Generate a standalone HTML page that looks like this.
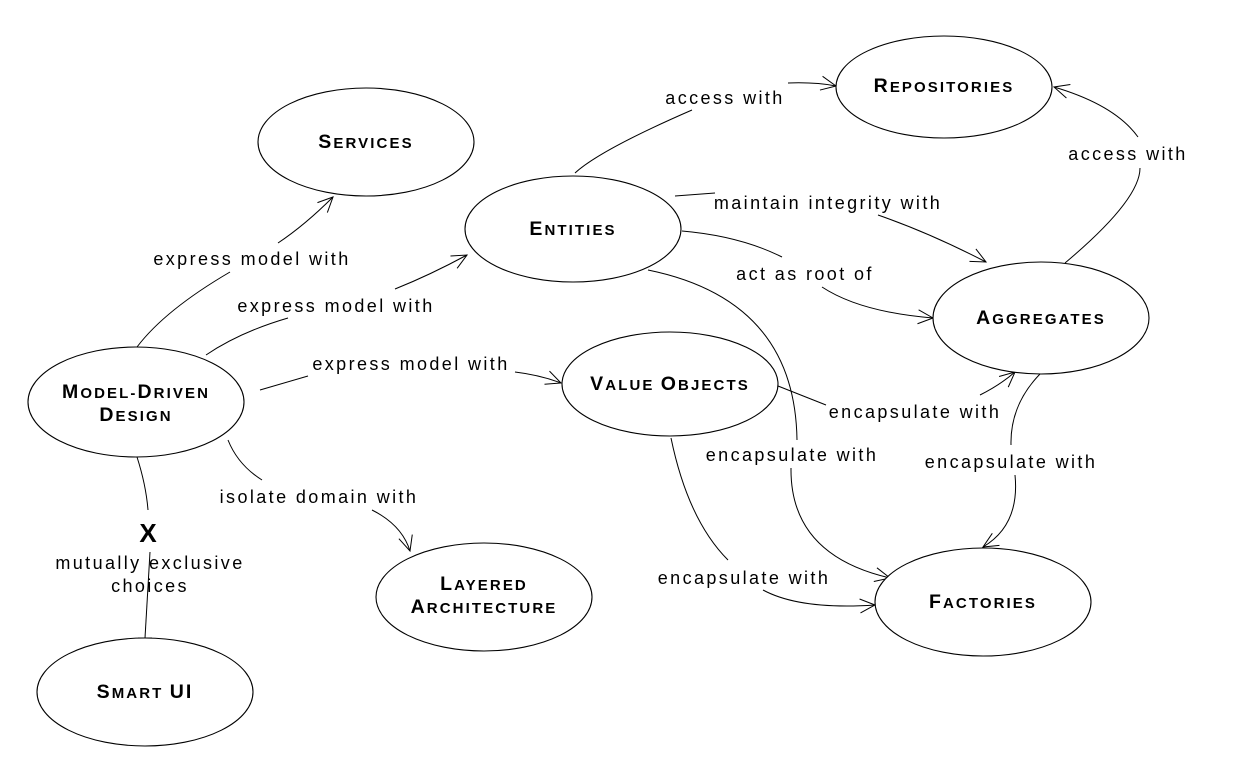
<!DOCTYPE html>
<html><head><meta charset="utf-8"><style>
html,body{margin:0;padding:0;background:#fff;}
svg{display:block;}
.n{font-family:"Liberation Sans",sans-serif;font-weight:bold;font-size:15px;letter-spacing:2.1px;text-anchor:middle;fill:#000;}
.n tspan.b{font-size:19.5px;}
.l{font-family:"Liberation Sans",sans-serif;font-size:18px;letter-spacing:2.4px;text-anchor:middle;fill:#000;}
path,line{fill:none;stroke:#000;stroke-width:1;}
ellipse{fill:#fff;stroke:#000;stroke-width:1.1;}
</style></head><body>
<svg width="1250" height="762" viewBox="0 0 1250 762" xmlns="http://www.w3.org/2000/svg">
<defs><marker id="a" markerWidth="20" markerHeight="20" refX="16" refY="8" orient="auto" markerUnits="userSpaceOnUse"><path d="M1,1 L16,8 L1,15" style="fill:none;stroke:#000;stroke-width:1"/></marker></defs>

<path d="M137,347 Q165,310 230,272"/>
<path d="M278,243 Q305,225 333,197" marker-end="url(#a)"/>
<path d="M206,355 Q240,332 288,318"/>
<path d="M395,289 Q430,275 467,255" marker-end="url(#a)"/>
<path d="M260,390 L308,376"/>
<path d="M515,372 Q540,375 561,383" marker-end="url(#a)"/>
<path d="M228,440 Q238,465 262,480"/>
<path d="M372,510 Q402,525 410,551" marker-end="url(#a)"/>
<path d="M137,457 Q146,485 148,510"/>
<path d="M150,552 L145,638"/>
<line x1="138" y1="638" x2="152" y2="638"/>
<path d="M575,173 Q600,150 692,110"/>
<path d="M788,83 Q815,82 836,86" marker-end="url(#a)"/>
<path d="M1065,263 Q1140,200 1140,168"/>
<path d="M1138,137 Q1115,105 1054,87" marker-end="url(#a)"/>
<path d="M675,196 L715,193"/>
<path d="M878,215 Q930,233 986,262" marker-end="url(#a)"/>
<path d="M682,231 Q740,236 782,257"/>
<path d="M822,287 Q860,312 933,318" marker-end="url(#a)"/>
<path d="M648,270 Q795,300 797,440"/>
<path d="M791,468 Q790,555 890,578" marker-end="url(#a)"/>
<path d="M778,386 L826,405"/>
<path d="M980,395 Q1000,385 1015,372" marker-end="url(#a)"/>
<path d="M1040,374 Q1010,405 1011,445"/>
<path d="M1015,475 Q1020,525 983,547" marker-end="url(#a)"/>
<path d="M671,438 Q688,520 728,560"/>
<path d="M763,590 Q800,610 875,605" marker-end="url(#a)"/>

<ellipse cx="366" cy="142" rx="108" ry="54"/>
<ellipse cx="944" cy="87" rx="108" ry="51"/>
<ellipse cx="573" cy="229" rx="108" ry="53"/>
<ellipse cx="1041" cy="318" rx="108" ry="56"/>
<ellipse cx="136" cy="402" rx="108" ry="55"/>
<ellipse cx="670" cy="384" rx="108" ry="52"/>
<ellipse cx="484" cy="597" rx="108" ry="54"/>
<ellipse cx="983" cy="602" rx="108" ry="54"/>
<ellipse cx="145" cy="692" rx="108" ry="54"/>

<text class="n" x="366" y="148"><tspan class="b">S</tspan>ERVICES</text>
<text class="n" x="944" y="92"><tspan class="b">R</tspan>EPOSITORIES</text>
<text class="n" x="573" y="235"><tspan class="b">E</tspan>NTITIES</text>
<text class="n" x="1041" y="324"><tspan class="b">A</tspan>GGREGATES</text>
<text class="n" x="136" y="398"><tspan class="b">M</tspan>ODEL-<tspan class="b">D</tspan>RIVEN</text>
<text class="n" x="136" y="421"><tspan class="b">D</tspan>ESIGN</text>
<text class="n" x="670" y="390"><tspan class="b">V</tspan>ALUE <tspan class="b">O</tspan>BJECTS</text>
<text class="n" x="484" y="590"><tspan class="b">L</tspan>AYERED</text>
<text class="n" x="484" y="613"><tspan class="b">A</tspan>RCHITECTURE</text>
<text class="n" x="983" y="608"><tspan class="b">F</tspan>ACTORIES</text>
<text class="n" x="145" y="698"><tspan class="b">S</tspan>MART <tspan class="b">UI</tspan></text>

<text class="l" x="252" y="265">express model with</text>
<text class="l" x="336" y="312">express model with</text>
<text class="l" x="411" y="370">express model with</text>
<text class="l" x="319" y="503">isolate domain with</text>
<text x="148" y="542" style="font-family:'Liberation Sans',sans-serif;font-weight:bold;font-size:26px;text-anchor:middle">X</text>
<text class="l" x="150" y="569">mutually exclusive</text>
<text class="l" x="150" y="592">choices</text>
<text class="l" x="725" y="104">access with</text>
<text class="l" x="1128" y="160">access with</text>
<text class="l" x="828" y="209">maintain integrity with</text>
<text class="l" x="805" y="280">act as root of</text>
<text class="l" x="915" y="418">encapsulate with</text>
<text class="l" x="792" y="461">encapsulate with</text>
<text class="l" x="1011" y="468">encapsulate with</text>
<text class="l" x="744" y="584">encapsulate with</text>
</svg>
</body></html>
